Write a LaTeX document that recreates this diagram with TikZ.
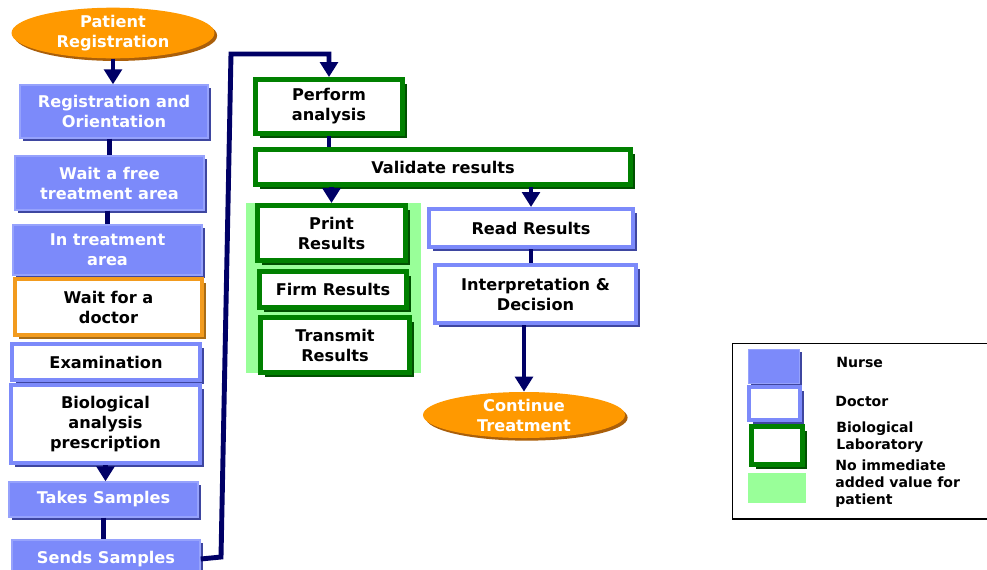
\documentclass[tikz,border=0pt]{standalone}
\usepackage{fontspec}
\setmainfont{DejaVu Sans}
\usetikzlibrary{positioning,shapes.geometric,arrows.meta,shadows}
\definecolor{nurseblue}{RGB}{124,138,250}
\definecolor{nurseedge}{RGB}{150,162,252}
\definecolor{nurseshadow}{RGB}{62,70,160}
\definecolor{termorange}{RGB}{255,153,0}
\definecolor{termshadow}{RGB}{170,95,10}
\definecolor{waitorange}{RGB}{242,155,30}
\definecolor{labgreen}{RGB}{0,128,0}
\definecolor{labshadow}{RGB}{0,80,0}
\definecolor{novaluegreen}{RGB}{153,255,153}
\definecolor{navyline}{RGB}{0,0,102}
\newcommand{\flowfont}{\fontsize{9.2}{11.4}\selectfont\bfseries}
\newcommand{\keyfont}{\fontsize{8}{9.7}\selectfont\bfseries}
\tikzstyle{terminal} = [ellipse, inner sep=0pt, align=center, font=\flowfont, text=white, fill=termorange, drop shadow={shadow xshift=1.5pt,shadow yshift=-1.5pt,fill=termshadow,opacity=1}]
\tikzstyle{nurse-step} = [rectangle, inner sep=0pt, align=center, font=\flowfont, text=white, fill=nurseblue, draw=nurseedge, line width=0.8pt, drop shadow={shadow xshift=1.6pt,shadow yshift=-1.6pt,fill=nurseshadow,opacity=1}]
\tikzstyle{doctor-step} = [rectangle, inner sep=0pt, align=center, font=\flowfont, text=black, fill=white, draw=nurseblue, line width=2.3pt, drop shadow={shadow xshift=2.4pt,shadow yshift=-2.4pt,fill=nurseshadow,opacity=1}]
\tikzstyle{waiting-step} = [rectangle, inner sep=0pt, align=center, font=\flowfont, text=black, fill=white, draw=waitorange, line width=2.3pt, drop shadow={shadow xshift=2.2pt,shadow yshift=-2.2pt,fill=waitorange!70!black,opacity=1}]
\tikzstyle{lab-step} = [rectangle, inner sep=0pt, align=center, font=\flowfont, text=black, fill=white, draw=labgreen, line width=2.8pt, drop shadow={shadow xshift=2.6pt,shadow yshift=-2.6pt,fill=labshadow,opacity=1}]
\tikzstyle{no-value} = [rectangle, inner sep=0pt, fill=novaluegreen]
\tikzstyle{key-label} = [anchor=west, inner sep=0pt, align=left, font=\keyfont, text=black]
\tikzstyle{flow-line} = [line width=2.8pt, draw=navyline]
\tikzstyle{flow-arrow} = [flow-line, -{Triangle[width=10pt,length=8.5pt]}]

\begin{document}
\begin{tikzpicture}[x=0.02cm, y=-0.02cm]
        \useasboundingbox (0,0) rectangle (987,569);

        \node (patient-registration) [terminal, minimum width=4.06cm, minimum height=0.9cm] at (113,33) {Patient\\Registration};
        \node (registration-orientation) [nurse-step, minimum width=3.76cm, minimum height=1.06cm] at (114,111.5) {Registration and\\Orientation};
        \node (wait-free-area) [nurse-step, minimum width=3.78cm, minimum height=1.08cm] at (109.5,183) {Wait a free\\treatment area};
        \node (in-treatment-area) [nurse-step, minimum width=3.78cm, minimum height=1.0cm] at (107.5,250) {In treatment\\area};
        \node (wait-doctor) [waiting-step, minimum width=3.74cm, minimum height=1.12cm] at (108.5,307) {Wait for a\\doctor};
        \node (examination) [doctor-step, minimum width=3.76cm, minimum height=0.72cm] at (106,362) {Examination};
        \node (analysis-prescription) [doctor-step, minimum width=3.78cm, minimum height=1.56cm] at (105.5,424) {Biological\\analysis\\prescription};
        \node (takes-samples) [nurse-step, minimum width=3.78cm, minimum height=0.7cm] at (103.5,499.5) {Takes Samples};
        \node (sends-samples) [nurse-step, minimum width=3.76cm, minimum height=0.76cm] at (106,559) {Sends Samples};

        \node (no-value-band) [no-value, minimum width=3.5cm, minimum height=3.4cm] at (333.5,288) {};
        \node (perform-analysis) [lab-step, minimum width=2.94cm, minimum height=1.08cm] at (329,106.5) {Perform\\analysis};
        \node (validate-results) [lab-step, minimum width=7.5cm, minimum height=0.7cm] at (443,167) {Validate results};
        \node (print-results) [lab-step, minimum width=2.96cm, minimum height=1.1cm] at (331.5,233) {Print\\Results};
        \node (firm-results) [lab-step, minimum width=2.94cm, minimum height=0.72cm] at (333,289.5) {Firm Results};
        \node (transmit-results) [lab-step, minimum width=2.98cm, minimum height=1.1cm] at (335,345) {Transmit\\Results};
        \node (read-results) [doctor-step, minimum width=4.08cm, minimum height=0.76cm] at (531,228) {Read Results};
        \node (interpretation-decision) [doctor-step, minimum width=4.02cm, minimum height=1.16cm] at (535.5,294) {Interpretation \&\\Decision};
        \node (continue-treatment) [terminal, minimum width=4.04cm, minimum height=0.92cm] at (524,415) {Continue\\Treatment};

        \coordinate (sample-route-low) at (221,557);
        \coordinate (sample-route-high) at (231,54);

        \draw [flow-arrow] (patient-registration.south) -- (patient-registration.south |- registration-orientation.north);
        \draw [flow-line] (wait-free-area.north |- registration-orientation.south) -- (wait-free-area.north);
        \draw [flow-line] (in-treatment-area.north |- wait-free-area.south) -- (in-treatment-area.north);
        \draw [flow-arrow] (analysis-prescription.south) -- (analysis-prescription.south |- takes-samples.north);
        \draw [flow-line] (takes-samples.south) -- (takes-samples.south |- sends-samples.north);
        \draw [flow-arrow] (sends-samples.east) -- (sample-route-low) -- (sample-route-high) -| (perform-analysis.north);
        \draw [flow-line] (perform-analysis.south) -- (perform-analysis.south |- validate-results.north);
        \draw [flow-arrow] (print-results.north |- validate-results.south) -- (print-results.north);
        \draw [flow-arrow] (read-results.north |- validate-results.south) -- (read-results.north);
        \draw [flow-line] (read-results.south) -- (read-results.south |- interpretation-decision.north);
        \draw [flow-arrow] (continue-treatment.north |- interpretation-decision.south) -- (continue-treatment.north);

        \node (legend-frame) [draw=black, line width=0.6pt, minimum width=5.26cm, minimum height=3.52cm] at (863.5,431) {};
        \node (nurse-key) [nurse-step, minimum width=1.02cm, minimum height=0.68cm] at (774,366.5) {};
        \node (doctor-key) [doctor-step, minimum width=1.02cm, minimum height=0.66cm] at (774.5,403.5) {};
        \node (lab-key) [lab-step, minimum width=1.02cm, minimum height=0.76cm] at (777,445.5) {};
        \node (no-value-key) [no-value, minimum width=1.16cm, minimum height=0.6cm] at (777,488) {};
        \node (nurse-label) [key-label] at (836,362) {Nurse};
        \node (doctor-label) [key-label] at (835,401) {Doctor};
        \node (lab-label) [key-label] at (836,437.5) {Biological\\Laboratory};
        \node (no-value-label) [key-label] at (835,484) {No immediate\\added value for\\patient};
\end{tikzpicture}
\end{document}
